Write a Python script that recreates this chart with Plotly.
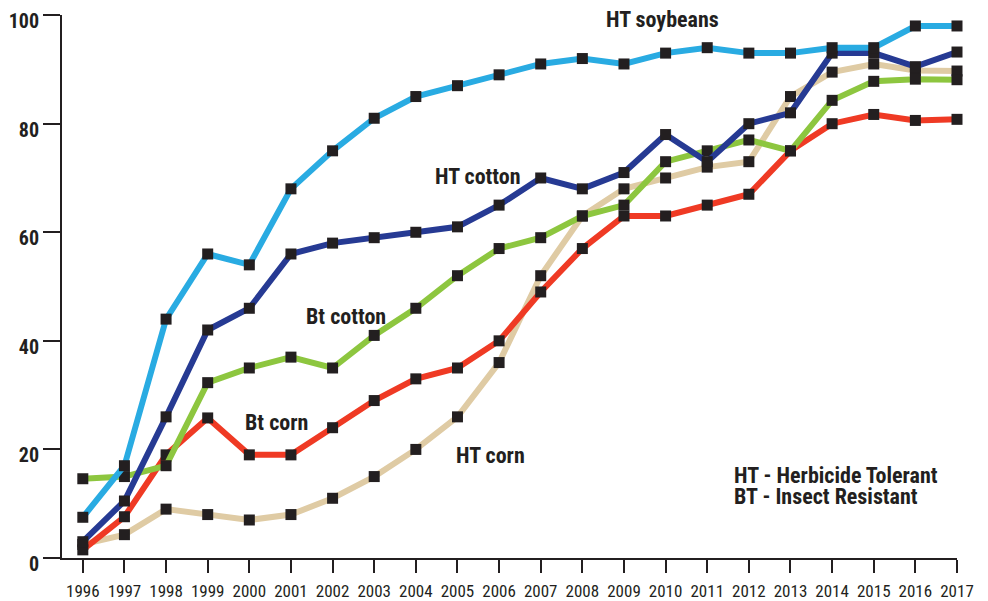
import plotly.graph_objects as go

years = list(range(1996, 2018))

ht_soybeans = [7.5, 17, 44, 56, 54, 68, 75, 81, 85, 87, 89, 91, 92, 91, 93, 94, 93, 93, 94, 94, 98, 98]
ht_cotton = [3, 10.5, 26, 42, 46, 56, 58, 59, 60, 61, 65, 70, 68, 71, 78, 73, 80, 82, 93, 93, 90.5, 93.2]
bt_cotton = [14.6, 15, 17, 32.3, 35, 37, 35, 41, 46, 52, 57, 59, 63, 65, 73, 75, 77, 75, 84.3, 87.8, 88.2, 88.1]
bt_corn = [1.5, 7.6, 19, 25.8, 19, 19, 24, 29, 33, 35, 40, 49, 57, 63, 63, 65, 67, 75, 80, 81.7, 80.6, 80.8]
ht_corn = [2.5, 4.3, 9, 8, 7, 8, 11, 15, 20, 26, 36, 52, 63, 68, 70, 72, 73, 85, 89.5, 91, 89.8, 89.7]

series_names = ["HT corn", "Bt corn", "Bt cotton", "HT cotton", "HT soybeans"]
series_values = [ht_corn, bt_corn, bt_cotton, ht_cotton, ht_soybeans]
series_colors = ["#dfcba4", "#ef3a24", "#8dc63f", "#263a93", "#29abe2"]

y_ticks = [0, 20, 40, 60, 80, 100]

label_font = "Liberation Sans Narrow, Arial Narrow, Roboto Condensed, Liberation Sans, Arial, sans-serif"

fig = go.Figure()
for name, vals, col in zip(series_names, series_values, series_colors):
    fig.add_trace(go.Scatter(
        x=years, y=vals, mode="lines+markers", name=name,
        line=dict(color=col, width=6),
        marker=dict(symbol="square", size=11, color="#231f20"),
        cliponaxis=False,
    ))

labels = [
    ("HT soybeans", 2009.92, 99.2),
    ("HT cotton", 2005.49, 70.2),
    ("Bt cotton", 2002.32, 44.4),
    ("Bt corn", 2000.66, 25.0),
    ("HT corn", 2005.80, 18.8),
]
for txt, xv, yv in labels:
    fig.add_annotation(x=xv, y=yv, text="<b>" + txt + "</b>", showarrow=False,
                       font=dict(family=label_font, size=22, color="#231f20"),
                       xanchor="center", yanchor="middle", borderpad=0)

notes = [("HT - Herbicide Tolerant", 15.2), ("BT - Insect Resistant", 11.35)]
for txt, yv in notes:
    fig.add_annotation(x=2011.62, y=yv, xanchor="left", yanchor="middle",
                       text="<b>" + txt + "</b>", showarrow=False, borderpad=0,
                       font=dict(family=label_font, size=22, color="#231f20"))

fig.update_layout(
    width=980, height=593,
    margin=dict(l=54, r=31, t=7, b=43),
    plot_bgcolor="white", paper_bgcolor="white",
    showlegend=False,
)
fig.update_xaxes(
    range=[1995.5, 2017], tickmode="array", tickvals=years,
    ticktext=[str(y) for y in years],
    showgrid=False, zeroline=False, automargin=False,
    showline=True, linecolor="#231f20", linewidth=2,
    ticks="outside", ticklen=13, tickwidth=1.5, tickcolor="#231f20",
    tickfont=dict(family=label_font, size=17, color="#231f20"),
    ticklabelstandoff=4,
)
fig.update_yaxes(
    range=[0, 100.02], tickmode="array", tickvals=y_ticks,
    ticktext=["<b>%d</b>" % v for v in y_ticks],
    showgrid=False, zeroline=False, automargin=False,
    showline=True, linecolor="#231f20", linewidth=2,
    ticks="outside", ticklen=17, tickwidth=2, tickcolor="#231f20",
    tickfont=dict(family=label_font, size=20, color="#231f20"),
    ticklabelshift=6, ticklabeloverflow="allow",
)

fig.write_html("out.html")
